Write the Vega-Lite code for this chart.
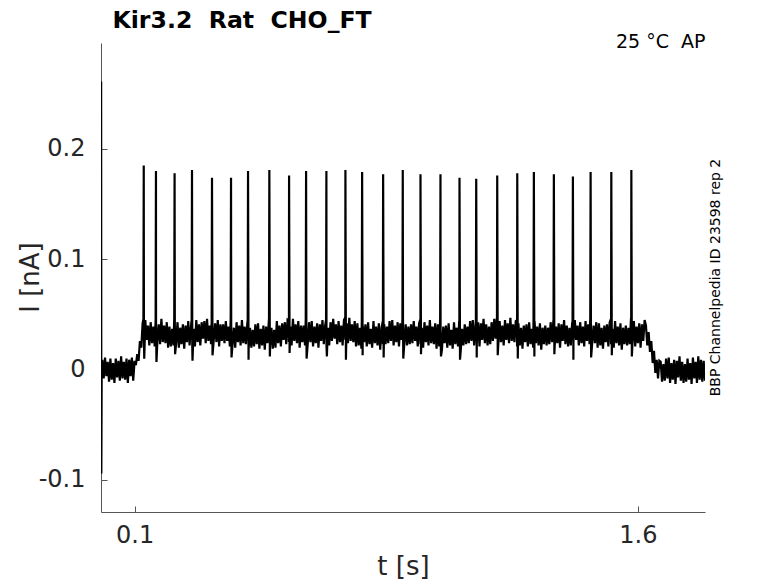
{
"$schema":"https://vega.github.io/schema/vega-lite/v6.json",
"width":604,"height":469,
"autosize":"none",
"padding":{"left":101,"top":43,"right":73,"bottom":71},
"background":"white",
"config":{"view":{"stroke":null},"font":"DejaVu Sans","axis":{"grid":false,"labelFont":"DejaVu Sans","titleFont":"DejaVu Sans"}},
"datasets":{
"anchor":[{"t":0,"i":0}],
"trace":[
{"t":0,"i":0},{"t":0.4,"i":261},{"t":1,"i":-94},{"t":2,"i":-4},
{"t":4,"i":9},{"t":8,"i":-8},{"t":12,"i":11},{"t":16,"i":-6},{"t":20,"i":7},{"t":24,"i":-11},{"t":28,"i":10},{"t":32,"i":-9},{"t":36,"i":6},{"t":40,"i":-12},{"t":44,"i":10},{"t":48,"i":-7},{"t":52,"i":8},{"t":56,"i":-10},{"t":60,"i":12},{"t":64,"i":-8},{"t":68,"i":7},{"t":72,"i":-9},{"t":76,"i":10},{"t":80,"i":-12},{"t":84,"i":9},{"t":88,"i":-6},{"t":92,"i":11},{"t":96,"i":-10},{"t":100,"i":8},
{"t":104,"i":4},{"t":108,"i":14},{"t":112,"i":8},{"t":116,"i":26},{"t":120,"i":20},
{"t":124,"i":42},{"t":128,"i":25},{"t":132,"i":45},{"t":136,"i":27},{"t":140,"i":40},{"t":144,"i":22},{"t":148,"i":43},{"t":152,"i":24},{"t":156,"i":39},{"t":160,"i":21},{"t":164,"i":44},{"t":168,"i":26},{"t":172,"i":41},{"t":176,"i":23},{"t":180,"i":46},{"t":184,"i":25},{"t":188,"i":40},{"t":192,"i":24},{"t":196,"i":43},{"t":200,"i":20},
{"t":204,"i":39},{"t":208,"i":21},{"t":212,"i":37},{"t":216,"i":22},{"t":220,"i":42},{"t":224,"i":24},{"t":228,"i":43},{"t":232,"i":20},{"t":236,"i":38},{"t":240,"i":23},{"t":244,"i":41},{"t":248,"i":19},{"t":252,"i":40},{"t":256,"i":25},{"t":260,"i":44},{"t":264,"i":22},{"t":268,"i":39},{"t":272,"i":20},{"t":276,"i":37},{"t":280,"i":21},
{"t":284,"i":45},{"t":288,"i":25},{"t":292,"i":41},{"t":296,"i":22},{"t":300,"i":43},{"t":304,"i":28},{"t":308,"i":44},{"t":312,"i":24},{"t":316,"i":46},{"t":320,"i":26},{"t":324,"i":40},{"t":328,"i":23},{"t":332,"i":47},{"t":336,"i":27},{"t":340,"i":42},{"t":344,"i":25},{"t":348,"i":45},{"t":352,"i":21},{"t":356,"i":41},{"t":360,"i":26},
{"t":364,"i":41},{"t":368,"i":24},{"t":372,"i":44},{"t":376,"i":26},{"t":380,"i":39},{"t":384,"i":21},{"t":388,"i":42},{"t":392,"i":23},{"t":396,"i":38},{"t":400,"i":20},{"t":404,"i":43},{"t":408,"i":25},{"t":412,"i":40},{"t":416,"i":22},{"t":420,"i":45},{"t":424,"i":24},{"t":428,"i":39},{"t":432,"i":23},{"t":436,"i":42},{"t":440,"i":19},
{"t":444,"i":38},{"t":448,"i":20},{"t":452,"i":36},{"t":456,"i":21},{"t":460,"i":41},{"t":464,"i":23},{"t":468,"i":42},{"t":472,"i":19},{"t":476,"i":37},{"t":480,"i":22},{"t":484,"i":40},{"t":488,"i":18},{"t":492,"i":39},{"t":496,"i":24},{"t":500,"i":43},{"t":504,"i":21},{"t":508,"i":38},{"t":512,"i":19},{"t":516,"i":36},{"t":520,"i":20},
{"t":524,"i":44},{"t":528,"i":24},{"t":532,"i":40},{"t":536,"i":21},{"t":540,"i":42},{"t":544,"i":27},{"t":548,"i":43},{"t":552,"i":23},{"t":556,"i":45},{"t":560,"i":25},{"t":564,"i":39},{"t":568,"i":22},{"t":572,"i":46},{"t":576,"i":26},{"t":580,"i":41},{"t":584,"i":24},{"t":588,"i":44},{"t":592,"i":20},{"t":596,"i":40},{"t":600,"i":25},
{"t":604,"i":40},{"t":608,"i":22},{"t":612,"i":38},{"t":616,"i":23},{"t":620,"i":43},{"t":624,"i":25},{"t":628,"i":44},{"t":632,"i":21},{"t":636,"i":39},{"t":640,"i":24},{"t":644,"i":42},{"t":648,"i":20},{"t":652,"i":41},{"t":656,"i":26},{"t":660,"i":45},{"t":664,"i":23},{"t":668,"i":40},{"t":672,"i":21},{"t":676,"i":38},{"t":680,"i":22},
{"t":684,"i":43},{"t":688,"i":26},{"t":692,"i":46},{"t":696,"i":28},{"t":700,"i":41},{"t":704,"i":23},{"t":708,"i":44},{"t":712,"i":25},{"t":716,"i":40},{"t":720,"i":22},{"t":724,"i":45},{"t":728,"i":27},{"t":732,"i":42},{"t":736,"i":24},{"t":740,"i":47},{"t":744,"i":26},{"t":748,"i":41},{"t":752,"i":25},{"t":756,"i":44},{"t":760,"i":21},
{"t":764,"i":42},{"t":768,"i":22},{"t":772,"i":38},{"t":776,"i":19},{"t":780,"i":40},{"t":784,"i":25},{"t":788,"i":41},{"t":792,"i":21},{"t":796,"i":43},{"t":800,"i":23},{"t":804,"i":37},{"t":808,"i":20},{"t":812,"i":44},{"t":816,"i":24},{"t":820,"i":39},{"t":824,"i":22},{"t":828,"i":42},{"t":832,"i":18},{"t":836,"i":38},{"t":840,"i":23},
{"t":844,"i":41},{"t":848,"i":23},{"t":852,"i":39},{"t":856,"i":24},{"t":860,"i":44},{"t":864,"i":26},{"t":868,"i":45},{"t":872,"i":22},{"t":876,"i":40},{"t":880,"i":25},{"t":884,"i":43},{"t":888,"i":21},{"t":892,"i":42},{"t":896,"i":27},{"t":900,"i":46},{"t":904,"i":24},{"t":908,"i":41},{"t":912,"i":22},{"t":916,"i":39},{"t":920,"i":23},
{"t":924,"i":41},{"t":928,"i":24},{"t":932,"i":44},{"t":936,"i":26},{"t":940,"i":39},{"t":944,"i":21},{"t":948,"i":42},{"t":952,"i":23},{"t":956,"i":38},{"t":960,"i":20},{"t":964,"i":43},{"t":968,"i":25},{"t":972,"i":40},{"t":976,"i":22},{"t":980,"i":45},{"t":984,"i":24},{"t":988,"i":39},{"t":992,"i":23},{"t":996,"i":42},{"t":1000,"i":19},
{"t":1004,"i":41},{"t":1008,"i":21},{"t":1012,"i":37},{"t":1016,"i":18},{"t":1020,"i":39},{"t":1024,"i":24},{"t":1028,"i":40},{"t":1032,"i":20},{"t":1036,"i":42},{"t":1040,"i":22},{"t":1044,"i":36},{"t":1048,"i":19},{"t":1052,"i":43},{"t":1056,"i":23},{"t":1060,"i":38},{"t":1064,"i":21},{"t":1068,"i":41},{"t":1072,"i":17},{"t":1076,"i":37},{"t":1080,"i":22},
{"t":1084,"i":41},{"t":1088,"i":23},{"t":1092,"i":39},{"t":1096,"i":24},{"t":1100,"i":44},{"t":1104,"i":26},{"t":1108,"i":45},{"t":1112,"i":22},{"t":1116,"i":40},{"t":1120,"i":25},{"t":1124,"i":43},{"t":1128,"i":21},{"t":1132,"i":42},{"t":1136,"i":27},{"t":1140,"i":46},{"t":1144,"i":24},{"t":1148,"i":41},{"t":1152,"i":22},{"t":1156,"i":39},{"t":1160,"i":23},
{"t":1164,"i":43},{"t":1168,"i":26},{"t":1172,"i":46},{"t":1176,"i":28},{"t":1180,"i":41},{"t":1184,"i":23},{"t":1188,"i":44},{"t":1192,"i":25},{"t":1196,"i":40},{"t":1200,"i":22},{"t":1204,"i":45},{"t":1208,"i":27},{"t":1212,"i":42},{"t":1216,"i":24},{"t":1220,"i":47},{"t":1224,"i":26},{"t":1228,"i":41},{"t":1232,"i":25},{"t":1236,"i":44},{"t":1240,"i":21},
{"t":1244,"i":42},{"t":1248,"i":22},{"t":1252,"i":38},{"t":1256,"i":19},{"t":1260,"i":40},{"t":1264,"i":25},{"t":1268,"i":41},{"t":1272,"i":21},{"t":1276,"i":43},{"t":1280,"i":23},{"t":1284,"i":37},{"t":1288,"i":20},{"t":1292,"i":44},{"t":1296,"i":24},{"t":1300,"i":39},{"t":1304,"i":22},{"t":1308,"i":42},{"t":1312,"i":18},{"t":1316,"i":38},{"t":1320,"i":23},
{"t":1324,"i":40},{"t":1328,"i":22},{"t":1332,"i":38},{"t":1336,"i":23},{"t":1340,"i":43},{"t":1344,"i":25},{"t":1348,"i":44},{"t":1352,"i":21},{"t":1356,"i":39},{"t":1360,"i":24},{"t":1364,"i":42},{"t":1368,"i":20},{"t":1372,"i":41},{"t":1376,"i":26},{"t":1380,"i":45},{"t":1384,"i":23},{"t":1388,"i":40},{"t":1392,"i":21},{"t":1396,"i":38},{"t":1400,"i":22},
{"t":1404,"i":42},{"t":1408,"i":25},{"t":1412,"i":45},{"t":1416,"i":27},{"t":1420,"i":40},{"t":1424,"i":22},{"t":1428,"i":43},{"t":1432,"i":24},{"t":1436,"i":39},{"t":1440,"i":21},{"t":1444,"i":44},{"t":1448,"i":26},{"t":1452,"i":41},{"t":1456,"i":23},{"t":1460,"i":46},{"t":1464,"i":25},{"t":1468,"i":40},{"t":1472,"i":24},{"t":1476,"i":43},{"t":1480,"i":20},
{"t":1484,"i":42},{"t":1488,"i":22},{"t":1492,"i":38},{"t":1496,"i":19},{"t":1500,"i":40},{"t":1504,"i":25},{"t":1508,"i":41},{"t":1512,"i":21},{"t":1516,"i":43},{"t":1520,"i":23},{"t":1524,"i":37},{"t":1528,"i":20},{"t":1532,"i":44},{"t":1536,"i":24},{"t":1540,"i":39},{"t":1544,"i":22},{"t":1548,"i":42},{"t":1552,"i":18},{"t":1556,"i":38},{"t":1560,"i":23},
{"t":1564,"i":40},{"t":1568,"i":22},{"t":1572,"i":38},{"t":1576,"i":23},{"t":1580,"i":43},{"t":1584,"i":25},{"t":1588,"i":44},{"t":1592,"i":21},{"t":1596,"i":39},{"t":1600,"i":24},{"t":1604,"i":42},{"t":1608,"i":20},{"t":1612,"i":41},{"t":1616,"i":26},{"t":1620,"i":45},
{"t":1624,"i":40},{"t":1628,"i":22},{"t":1632,"i":34},{"t":1636,"i":16},{"t":1640,"i":26},{"t":1644,"i":6},{"t":1648,"i":17},{"t":1652,"i":-3},{"t":1656,"i":9},{"t":1660,"i":-8},{"t":1664,"i":8},
{"t":1668,"i":7},{"t":1672,"i":-11},{"t":1676,"i":5},{"t":1680,"i":-10},{"t":1684,"i":10},{"t":1688,"i":-8},{"t":1692,"i":11},{"t":1696,"i":-12},{"t":1700,"i":6},{"t":1704,"i":-9},{"t":1708,"i":9},{"t":1712,"i":-13},{"t":1716,"i":8},{"t":1720,"i":-7},{"t":1724,"i":12},{"t":1728,"i":-10},{"t":1732,"i":7},{"t":1736,"i":-12},{"t":1740,"i":5},{"t":1744,"i":-11},{"t":1748,"i":10},{"t":1752,"i":-9},{"t":1756,"i":6},{"t":1760,"i":-13},{"t":1764,"i":11},{"t":1768,"i":-8},{"t":1772,"i":7},{"t":1776,"i":-12},{"t":1780,"i":12},{"t":1784,"i":-9},{"t":1788,"i":9},{"t":1792,"i":-11},{"t":1796,"i":8},{"t":1800,"i":-10},
{"t":126.4,"i":46},{"t":127.4,"i":185},{"t":128.9,"i":10},
{"t":162.8,"i":45},{"t":163.8,"i":180},{"t":165.3,"i":7},
{"t":218.3,"i":47},{"t":219.3,"i":178},{"t":220.8,"i":14},
{"t":270.2,"i":45},{"t":271.2,"i":181},{"t":272.7,"i":8},
{"t":329.8,"i":44},{"t":330.8,"i":174},{"t":332.3,"i":13},
{"t":386.5,"i":46},{"t":387.5,"i":174},{"t":389,"i":11},
{"t":437.2,"i":45},{"t":438.2,"i":180},{"t":439.7,"i":9},
{"t":500.7,"i":47},{"t":501.7,"i":181},{"t":503.2,"i":12},
{"t":559.5,"i":44},{"t":560.5,"i":176},{"t":562,"i":15},
{"t":610.2,"i":46},{"t":611.2,"i":180},{"t":612.7,"i":10},
{"t":670.7,"i":45},{"t":671.7,"i":180},{"t":673.2,"i":12},
{"t":727.4,"i":47},{"t":728.4,"i":181},{"t":729.9,"i":9},
{"t":777.2,"i":45},{"t":778.2,"i":179},{"t":779.7,"i":13},
{"t":839.8,"i":44},{"t":840.8,"i":177},{"t":842.3,"i":11},
{"t":898.3,"i":46},{"t":899.3,"i":181},{"t":900.8,"i":10},
{"t":951.1,"i":45},{"t":952.1,"i":177},{"t":953.6,"i":14},
{"t":1010.7,"i":46},{"t":1011.7,"i":177},{"t":1013.2,"i":12},
{"t":1067.4,"i":44},{"t":1068.4,"i":174},{"t":1069.9,"i":9},
{"t":1117.2,"i":45},{"t":1118.2,"i":173},{"t":1119.7,"i":11},
{"t":1179.8,"i":47},{"t":1180.8,"i":176},{"t":1182.3,"i":13},
{"t":1239.5,"i":45},{"t":1240.5,"i":178},{"t":1242,"i":10},
{"t":1289,"i":46},{"t":1290,"i":179},{"t":1291.5,"i":12},
{"t":1348.6,"i":45},{"t":1349.6,"i":177},{"t":1351.1,"i":14},
{"t":1405.3,"i":44},{"t":1406.3,"i":175},{"t":1407.8,"i":9},
{"t":1458.1,"i":48},{"t":1459.1,"i":179},{"t":1460.6,"i":11},
{"t":1519.8,"i":46},{"t":1520.8,"i":179},{"t":1522.3,"i":13},
{"t":1579.5,"i":47},{"t":1580.5,"i":181},{"t":1582,"i":12}
]},
"layer":[
{"data":{"name":"trace"},
 "mark":{"type":"line","color":"black","strokeWidth":2.2,"clip":true},
 "encoding":{
  "x":{"field":"t","type":"quantitative","scale":{"domain":[0,1800],"nice":false,"zero":false},
   "axis":{"orient":"bottom","values":[100,1600],"labelExpr":"'' + datum.value/1000","title":"t [s]","tickSize":-6,"labelPadding":17,"labelFontSize":24,"labelColor":"#262626","titleFontSize":26,"titleFontWeight":"normal","titleColor":"#262626","titleX":302,"titleY":62,"titleBaseline":"alphabetic","titleAlign":"center","domainColor":"#555","tickColor":"#555","labelFlush":false,"labelOverlap":false}},
  "y":{"field":"i","type":"quantitative","scale":{"domain":[-129,296],"nice":false,"zero":false},
   "axis":{"orient":"left","values":[-100,0,100,200],"labelExpr":"'' + datum.value/1000","title":"I [nA]","tickSize":-6,"labelPadding":22,"labelFontSize":24,"labelColor":"#262626","titleFontSize":26,"titleFontWeight":"normal","titleColor":"#262626","titleAngle":270,"titleX":-63,"titleY":234,"titleBaseline":"alphabetic","titleAlign":"center","domainColor":"#555","tickColor":"#555","labelFlush":false,"labelOverlap":false}}
 }},
{"data":{"name":"anchor"},
 "mark":{"type":"point","opacity":0},
 "encoding":{
  "x":{"field":"t","type":"quantitative","scale":{"domain":[0,1800],"nice":false,"zero":false},
   "axis":{"orient":"top","domain":false,"ticks":false,"labels":false,"title":"25 °C\u00a0\u00a0AP","titleFontSize":19,"titleFontWeight":"normal","titleColor":"black","titleX":604,"titleY":4,"titleAlign":"right","titleBaseline":"alphabetic"}},
  "y":{"field":"i","type":"quantitative","scale":{"domain":[-129,296],"nice":false,"zero":false},
   "axis":{"orient":"right","domain":false,"ticks":false,"labels":false,"title":"BBP Channelpedia ID 23598 rep 2","titleFontSize":14,"titleFontWeight":"normal","titleColor":"black","titleAngle":270,"titleX":10,"titleY":234,"titleAlign":"center","titleBaseline":"middle"}}
 }},
{"data":{"name":"anchor"},
 "mark":{"type":"point","opacity":0},
 "encoding":{
  "x":{"field":"t","type":"quantitative","scale":{"domain":[0,1800],"nice":false,"zero":false},
   "axis":{"orient":"top","domain":false,"ticks":false,"labels":false,"title":"Kir3.2\u00a0\u00a0Rat\u00a0\u00a0CHO_FT","titleFontSize":23.6,"titleFontWeight":"bold","titleColor":"black","titleX":11,"titleY":-16,"titleAlign":"left","titleBaseline":"alphabetic"}}
 }}
],
"resolve":{"axis":{"x":"independent","y":"independent"}}
}
